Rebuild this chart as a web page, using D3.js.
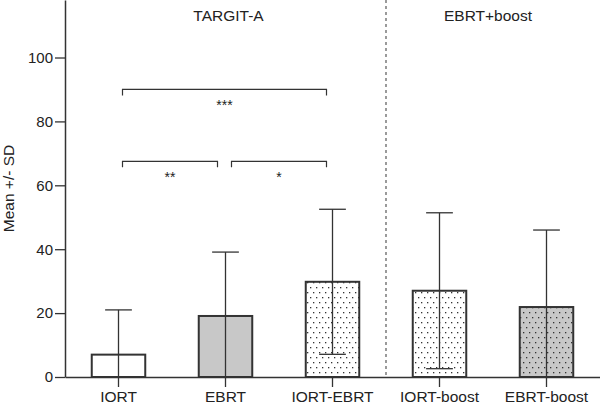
<!DOCTYPE html>
<html>
<head>
<meta charset="utf-8">
<script src="https://cdn.jsdelivr.net/npm/d3@7"></script>
<style>
  body { margin: 0; background: #fff; }
  svg { font-family: "Liberation Sans", Arial, sans-serif; }
</style>
</head>
<body>
<svg width="600" height="405"></svg>
<script>
// data
const groups = ['IORT', 'EBRT', 'IORT-EBRT', 'IORT-boost', 'EBRT-boost']
const means = [7.0, 19.1, 29.8, 27.0, 21.9]
const sds = [14.0, 20.0, 22.7, 24.4, 24.1]
const fills = ['plain', 'gray', 'dots', 'dots', 'graydots']
const yTicks = [0, 20, 40, 60, 80, 100]
const panels = ['TARGIT-A', 'EBRT+boost']
// significance brackets: [from, to, level, label]
const brackets = [
  ['IORT', 'IORT-EBRT', 90, '***'],
  ['IORT', 'EBRT', 67.5, '**'],
  ['EBRT', 'IORT-EBRT', 67.5, '*']
]

let svg = d3.select('svg')
let fontFam = '"Liberation Sans", Arial, sans-serif'

let x = d3.scaleBand()
  .domain(groups)
  .range([65, 600])
  .paddingInner(0.5)
  .paddingOuter(0.25)

let y = d3.scaleLinear()
  .domain([0, 118])
  .range([377, 0])

// patterns for the dotted bars
let defs = svg.append('defs')
function dotPattern(id, bg) {
  let p = defs.append('pattern')
    .attr('id', id)
    .attr('patternUnits', 'userSpaceOnUse')
    .attr('width', 6).attr('height', 10)
  p.append('rect').attr('width', 6).attr('height', 10).attr('fill', bg)
  p.append('rect').attr('x', 1).attr('y', 2).attr('width', 1.3).attr('height', 1.3).attr('fill', '#333')
  p.append('rect').attr('x', 4).attr('y', 7).attr('width', 1.3).attr('height', 1.3).attr('fill', '#333')
}
dotPattern('dots', '#fff')
dotPattern('graydots', '#c8c8c8')

function fillFor(f) {
  if (f == 'gray') return '#c8c8c8'
  if (f == 'dots') return 'url(#dots)'
  if (f == 'graydots') return 'url(#graydots)'
  return '#fff'
}

let ink = '#333'

// bars
svg.append('g').selectAll('rect')
  .data(groups)
  .enter().append('rect')
  .attr('x', d => x(d))
  .attr('y', (d, i) => y(means[i]))
  .attr('width', x.bandwidth())
  .attr('height', (d, i) => y(0) - y(means[i]))
  .attr('fill', (d, i) => fillFor(fills[i]))
  .attr('stroke', ink)
  .attr('stroke-width', 2)

// error bars (clipped at zero)
let capW = x.bandwidth() / 2
let err = svg.append('g').attr('stroke', ink).attr('stroke-width', 1.3)
groups.forEach((g, i) => {
  let cx = x(g) + x.bandwidth() / 2
  let lo = Math.max(0, means[i] - sds[i])
  let hi = means[i] + sds[i]
  err.append('line').attr('x1', cx).attr('x2', cx).attr('y1', y(lo)).attr('y2', y(hi))
  err.append('line').attr('x1', cx - capW / 2).attr('x2', cx + capW / 2).attr('y1', y(hi)).attr('y2', y(hi))
  if (means[i] - sds[i] > 0) {
    err.append('line').attr('x1', cx - capW / 2).attr('x2', cx + capW / 2).attr('y1', y(lo)).attr('y2', y(lo))
  }
})

// axes
let yAxis = svg.append('g')
  .attr('transform', 'translate(65,0)')
  .call(d3.axisLeft(y).tickValues(yTicks).tickSize(10).tickSizeOuter(0))
yAxis.select('.domain').attr('stroke', ink).attr('stroke-width', 1.5)
yAxis.selectAll('.tick line').attr('stroke', ink).attr('stroke-width', 1.3)
yAxis.selectAll('text').attr('font-size', 15).attr('fill', '#222').attr('font-family', fontFam).attr('x', -12)

let xAxis = svg.append('g')
  .attr('transform', 'translate(0,377)')
  .call(d3.axisBottom(x).tickSize(10).tickSizeOuter(0))
xAxis.select('.domain').attr('stroke', ink).attr('stroke-width', 1.5)
xAxis.selectAll('.tick line').attr('stroke', ink).attr('stroke-width', 1.3)
xAxis.selectAll('text').attr('font-size', 15.5).attr('fill', '#222').attr('dy', null).attr('y', 25).attr('font-family', fontFam)

svg.append('text')
  .attr('transform', 'translate(14,' + y(59) + ') rotate(-90)')
  .attr('text-anchor', 'middle')
  .attr('font-size', 15.5)
  .attr('fill', '#222')
  .text('Mean +/- SD')

// panel divider
let divX = (x('IORT-EBRT') + x.bandwidth() + x('IORT-boost')) / 2
svg.append('line')
  .attr('x1', divX).attr('x2', divX)
  .attr('y1', 0).attr('y2', y(0))
  .attr('stroke', '#666')
  .attr('stroke-width', 1.3)
  .attr('stroke-dasharray', '3,3')

// panel titles
let panelX = [x('EBRT') + x.bandwidth() / 2 + 3, (x('IORT-boost') + x('EBRT-boost') + x.bandwidth()) / 2 - 5]
svg.append('g').selectAll('text')
  .data(panels)
  .enter().append('text')
  .attr('x', (d, i) => panelX[i])
  .attr('y', 21)
  .attr('text-anchor', 'middle')
  .attr('font-size', 15.5)
  .attr('fill', '#222')
  .text(d => d)

// significance brackets
let br = svg.append('g')
brackets.forEach(b => {
  let x1 = x(b[0]) + x.bandwidth() / 2 + 4
  let x2 = x(b[1]) + x.bandwidth() / 2 - 6
  if (b[0] == 'EBRT') x1 += 2
  if (b[1] == 'EBRT') x2 -= 2
  let yy = y(b[2])
  br.append('path')
    .attr('d', 'M' + x1 + ',' + (yy + 6) + 'V' + yy + 'H' + x2 + 'V' + (yy + 6))
    .attr('fill', 'none')
    .attr('stroke', ink)
    .attr('stroke-width', 1.2)
  br.append('text')
    .attr('x', (x1 + x2) / 2)
    .attr('y', yy + 21)
    .attr('text-anchor', 'middle')
    .attr('font-size', 14)
    .attr('fill', '#222')
    .text(b[3])
})
</script>
</body>
</html>
